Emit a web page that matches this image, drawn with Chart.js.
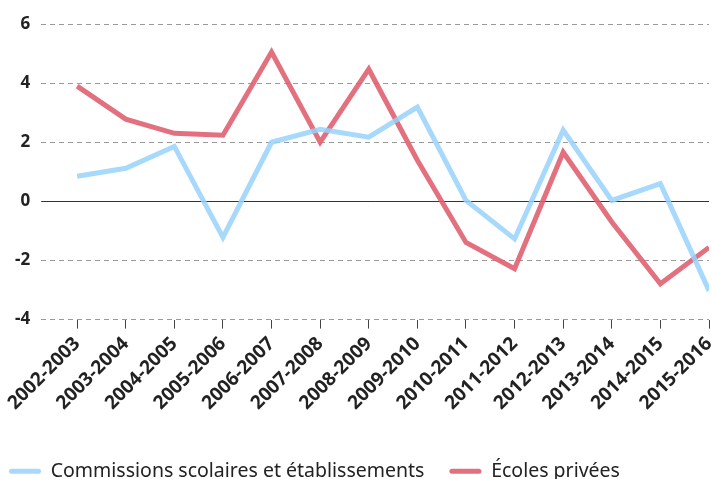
<!DOCTYPE html>
<html>
<head>
<meta charset="utf-8">
<script src="https://cdn.jsdelivr.net/npm/chart.js@4"></script>
<style>
  html, body { margin: 0; padding: 0; background: #fff; }
  #wrap { width: 712px; height: 479px; }
</style>
</head>
<body>
<div id="wrap"><canvas id="chart"></canvas></div>
<script>
const years = ['2002-2003', '2003-2004', '2004-2005', '2005-2006', '2006-2007', '2007-2008', '2008-2009',
               '2009-2010', '2010-2011', '2011-2012', '2012-2013', '2013-2014', '2014-2015', '2015-2016'];
const commissions = [0.85, 1.12, 1.86, -1.22, 2.0, 2.44, 2.17, 3.19, 0.03, -1.27, 2.41, 0.03, 0.6, -3.02];
const privees = [3.9, 2.78, 2.3, 2.24, 5.05, 2.0, 4.47, 1.39, -1.39, -2.28, 1.66, -0.7, -2.79, -1.56];

const blue = 'rgba(150, 210, 252, 0.85)';
const red = 'rgba(224, 96, 112, 0.9)';

// solid line at zero, over the dashed grid
const zeroLine = {
    id: 'zeroLine',
    beforeDatasetsDraw(chart) {
        const { ctx, chartArea, scales } = chart;
        const y = Math.round(scales.y.getPixelForValue(0)) + 0.5;
        ctx.save();
        ctx.strokeStyle = '#333';
        ctx.lineWidth = 1;
        ctx.beginPath();
        ctx.moveTo(chartArea.left, y);
        ctx.lineTo(chartArea.right, y);
        ctx.stroke();
        ctx.restore();
    }
};

// move the legend left and down, so it sits like in the original
const legendShift = {
    id: 'legendShift',
    afterLayout(chart) {
        const lg = chart.legend;
        lg.left -= 20;
        lg.right -= 20;
        lg.top += 18;
        lg.bottom += 18;
    }
};

const toPoints = arr => arr.map((v, i) => ({ x: i, y: v }));

new Chart(document.getElementById('chart'), {
    type: 'line',
    data: {
        datasets: [{
            label: 'Commissions scolaires et établissements',
            data: toPoints(commissions),
            borderColor: blue,
            backgroundColor: blue,
            borderWidth: 5,
            pointRadius: 0,
            tension: 0
        }, {
            label: 'Écoles privées',
            data: toPoints(privees),
            borderColor: red,
            backgroundColor: red,
            borderWidth: 5,
            pointRadius: 0,
            tension: 0
        }]
    },
    options: {
        responsive: true,
        maintainAspectRatio: false,
        animation: false,
        layout: { padding: { top: 24, right: 3, left: 4, bottom: 6 } },
        plugins: {
            tooltip: { enabled: false },
            legend: {
                position: 'bottom',
                align: 'start',
                labels: {
                    color: '#222',
                    font: { family: 'Noto Sans', size: 19.5 },
                    boxWidth: 32,
                    boxHeight: 5,
                    padding: 25,
                    useBorderRadius: true,
                    borderRadius: 2.5,
                    generateLabels(chart) {
                        return Chart.defaults.plugins.legend.labels.generateLabels(chart).map(l => {
                            l.lineWidth = 0;
                            return l;
                        });
                    }
                }
            }
        },
        scales: {
            x: {
                type: 'linear',
                min: -0.74,
                max: 13,
                afterBuildTicks(axis) {
                    axis.ticks = years.map((_, i) => ({ value: i }));
                },
                afterFit(axis) {
                    axis.paddingRight = 0;
                    axis.paddingLeft = 0;
                },
                ticks: {
                    autoSkip: false,
                    maxRotation: 45,
                    minRotation: 45,
                    color: '#222',
                    font: { family: 'Noto Sans', size: 19, weight: 'bold' },
                    padding: 4,
                    callback: v => years[v]
                },
                grid: {
                    drawOnChartArea: false,
                    drawTicks: true,
                    tickLength: 9,
                    tickColor: '#444'
                },
                border: { display: false }
            },
            y: {
                min: -4,
                max: 6,
                ticks: {
                    stepSize: 2,
                    color: '#222',
                    padding: 11,
                    font: { family: 'Noto Sans', size: 17, weight: 'bold' }
                },
                grid: {
                    color: ctx => ctx.tick && ctx.tick.value === 0 ? 'rgba(0,0,0,0)' : '#9a9a9a',
                    drawTicks: false
                },
                border: { display: false, dash: [5, 4] }
            }
        }
    },
    plugins: [zeroLine, legendShift]
});
</script>
</body>
</html>
